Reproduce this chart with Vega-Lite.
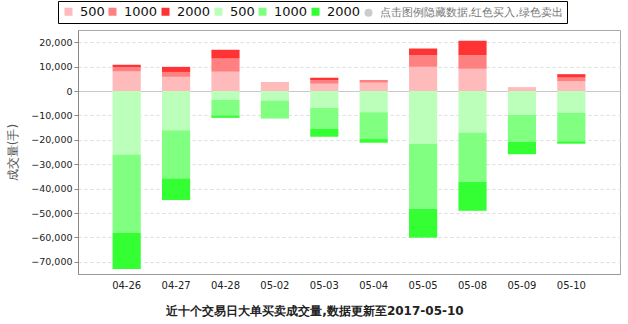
{
  "$schema": "https://vega.github.io/schema/vega-lite/v6.json",
  "autosize": "none",
  "width": 542,
  "height": 244,
  "padding": {"left": 78, "top": 30, "right": 8, "bottom": 50},
  "config": {"font": "DejaVu Sans", "view": {"stroke": "#aaa", "strokeWidth": 1}},
  "title": {"text": "近十个交易日大单买卖成交量,数据更新至2017-05-10", "orient": "bottom", "anchor": "middle", "frame": "group", "dx": -34, "offset": 16, "fontSize": 12, "fontWeight": "bold", "color": "#222"},
  "data": {"values": [
    {"d": "04-26", "B1_500": 8000, "B2_1000": 1700, "B3_2000": 1100, "S1_500": -26000, "S2_1000": -32100, "S3_2000": -14800},
    {"d": "04-27", "B1_500": 5800, "B2_1000": 2000, "B3_2000": 2100, "S1_500": -16100, "S2_1000": -19700, "S3_2000": -8900},
    {"d": "04-28", "B1_500": 7900, "B2_1000": 5400, "B3_2000": 3600, "S1_500": -3600, "S2_1000": -6400, "S3_2000": -1000},
    {"d": "05-02", "B1_500": 3700, "B2_1000": 0, "B3_2000": 0, "S1_500": -3900, "S2_1000": -7400, "S3_2000": 0},
    {"d": "05-03", "B1_500": 3000, "B2_1000": 1400, "B3_2000": 1000, "S1_500": -6900, "S2_1000": -8700, "S3_2000": -3100},
    {"d": "05-04", "B1_500": 3400, "B2_1000": 1100, "B3_2000": 0, "S1_500": -8700, "S2_1000": -11000, "S3_2000": -1500},
    {"d": "05-05", "B1_500": 9900, "B2_1000": 4700, "B3_2000": 2800, "S1_500": -21600, "S2_1000": -26700, "S3_2000": -11800},
    {"d": "05-08", "B1_500": 9100, "B2_1000": 5600, "B3_2000": 5900, "S1_500": -17000, "S2_1000": -20200, "S3_2000": -11900},
    {"d": "05-09", "B1_500": 1600, "B2_1000": 0, "B3_2000": 0, "S1_500": -9800, "S2_1000": -11000, "S3_2000": -5100},
    {"d": "05-10", "B1_500": 4000, "B2_1000": 1500, "B3_2000": 1400, "S1_500": -8900, "S2_1000": -11700, "S3_2000": -1000}
  ]},
  "transform": [{"fold": ["B1_500", "B2_1000", "B3_2000", "S1_500", "S2_1000", "S3_2000"], "as": ["s", "v"]}],
  "mark": {"type": "bar"},
  "encoding": {
    "x": {
      "field": "d", "type": "ordinal", "sort": null,
      "scale": {"paddingInner": 0.43, "paddingOuter": 0.7},
      "axis": {"title": null, "labelAngle": 0, "ticks": false, "labelPadding": 6, "labelFontSize": 10, "labelColor": "#222", "domainColor": "#999", "grid": false}
    },
    "y": {
      "field": "v", "type": "quantitative", "stack": "zero",
      "scale": {"domain": [-75000, 25000], "nice": false, "zero": false},
      "axis": {
        "title": "成交量(手)", "titleFontSize": 12, "titleFontWeight": "normal", "titleColor": "#555", "titlePadding": 11,
        "values": [-70000, -60000, -50000, -40000, -30000, -20000, -10000, 0, 10000, 20000],
        "format": ",.0f", "tickSize": 4, "tickColor": "#888", "domainColor": "#888", "labelPadding": 2,
        "labelFontSize": 9.5, "labelColor": "#222",
        "gridColor": {"condition": {"test": "datum.value === 0", "value": "#c8c8c8"}, "value": "#dddddd"},
        "gridDash": {"condition": {"test": "datum.value === 0", "value": []}, "value": [3, 3]}
      }
    },
    "color": {
      "field": "s", "type": "nominal",
      "scale": {
        "domain": ["B1_500", "B2_1000", "B3_2000", "S1_500", "S2_1000", "S3_2000", "note"],
        "range": ["#ffbbbb", "#ff8080", "#ff3333", "#bbffbb", "#80ff80", "#33ff33", "#cccccc"]
      },
      "legend": {
        "title": null, "orient": "none", "legendX": -20, "legendY": -29,
        "direction": "horizontal", "columns": 7, "padding": 4,
        "strokeColor": "#000", "fillColor": "#fff",
        "symbolType": "square", "symbolSize": 64, "symbolStrokeWidth": 0,
        "labelFontSize": 13, "labelOffset": 5, "columnPadding": 1, "labelLimit": 400, "labelColor": "#111",
        "labelExpr": "datum.value == 'note' ? '点击图例隐藏数据,红色买入,绿色卖出' : split(datum.value, '_')[1]",
        "encode": {
          "symbols": {"update": {"shape": {"signal": "datum.value == 'note' ? 'circle' : 'square'"}}},
          "labels": {"update": {"fontSize": {"signal": "datum.value == 'note' ? 11 : 13"}, "fill": {"signal": "datum.value == 'note' ? '#777' : '#111'"}}}
        }
      }
    },
    "order": {"field": "s", "sort": "ascending"}
  }
}
